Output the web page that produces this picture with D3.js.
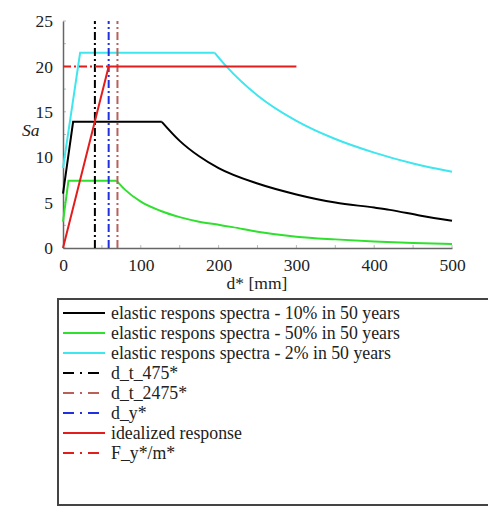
<!DOCTYPE html>
<html>
<head>
<meta charset="utf-8">
<script src="https://cdn.jsdelivr.net/npm/d3@7"></script>
<style>
  html, body { margin: 0; padding: 0; background: #fff; }
  svg { display: block; }
  svg text { font-family: "Liberation Serif", "Times New Roman", Times, serif; fill: #222; }
</style>
</head>
<body>
<svg id="chart" width="488" height="510"></svg>
<script>
// Displacement d* [mm] and spectral acceleration Sa for each curve
const spectrum10D  = [0, 13, 127, 150, 175, 200, 250, 300, 350, 400, 420, 460, 500];
const spectrum10Sa = [6.0, 13.9, 13.9, 11.8, 10.1, 8.8, 7.1, 5.9, 5.0, 4.45, 4.2, 3.55, 3.0];

const spectrum50D  = [0, 7, 69, 80, 100, 125, 150, 175, 200, 218, 250, 300, 350, 400, 450, 500];
const spectrum50Sa = [2.9, 7.4, 7.4, 6.4, 5.1, 4.1, 3.4, 2.9, 2.55, 2.3, 1.8, 1.25, 0.95, 0.72, 0.56, 0.45];

const spectrum2D   = [0, 22, 195, 210, 250, 300, 350, 400, 450, 500];
const spectrum2Sa  = [8.8, 21.5, 21.5, 20.0, 16.8, 14.0, 12.0, 10.5, 9.3, 8.4];

const idealD  = [0, 58.7, 300];
const idealSa = [0, 20, 20];

const dT475 = 41;
const dT2475 = 70;
const dY = 58.7;
const fyM = 20;

const xTicks = [0, 100, 200, 300, 400, 500];
const yTicks = [0, 5, 10, 15, 20, 25];

const legendLabels = [
  "elastic respons spectra - 10% in 50 years",
  "elastic respons spectra - 50% in 50 years",
  "elastic respons spectra - 2% in 50 years",
  "d_t_475*",
  "d_t_2475*",
  "d_y*",
  "idealized response",
  "F_y*/m*"
];

const FONT = '"Liberation Serif", "Times New Roman", Times, serif';

const svg = d3.select("#chart");
const x = d3.scaleLinear().domain([0, 500]).range([63, 452]);
const y = d3.scaleLinear().domain([0, 25]).range([248, 21]);

const DASHDOT = "8,3,2,3";
const styles = [
  { color: "#000000", dash: null },
  { color: "#2fe02f", dash: null },
  { color: "#3ee6ee", dash: null },
  { color: "#000000", dash: DASHDOT },
  { color: "#b8605a", dash: DASHDOT },
  { color: "#2030e0", dash: DASHDOT },
  { color: "#e31c1c", dash: null },
  { color: "#e31c1c", dash: DASHDOT }
];

const zip = (a, b) => a.map((v, i) => [v, b[i]]);
const linear = d3.line().x(d => x(d[0])).y(d => y(d[1]));
const smooth = d3.line().x(d => x(d[0])).y(d => y(d[1])).curve(d3.curveMonotoneX);

// Minor ticks along the axes
const gMinor = svg.append("g").attr("stroke", "#bbb").attr("stroke-width", 1);
d3.range(0, 25.01, 2.5).forEach(v => {
  gMinor.append("line").attr("x1", x(0)).attr("x2", x(0) + 3).attr("y1", y(v)).attr("y2", y(v));
});
d3.range(50, 500.01, 50).forEach(v => {
  gMinor.append("line").attr("x1", x(v)).attr("x2", x(v)).attr("y1", y(0)).attr("y2", y(0) - 3);
});

// Axes
const xAxis = d3.axisBottom(x).tickValues(xTicks).tickSize(0).tickPadding(11);
const gx = svg.append("g").attr("transform", `translate(0,${y(0)})`).call(xAxis)
  .attr("font-family", FONT).attr("font-size", 17.5);
gx.select(".domain").attr("stroke", "#666").attr("stroke-width", 1.5);
gx.selectAll("text").attr("fill", "#222");

const yAxis = d3.axisLeft(y).tickValues(yTicks).tickSize(0).tickPadding(10);
const gy = svg.append("g").attr("transform", `translate(${x(0)},0)`).call(yAxis)
  .attr("font-family", FONT).attr("font-size", 17.5);
gy.select(".domain").attr("stroke", "#666").attr("stroke-width", 1.5);
gy.selectAll("text").attr("fill", "#222");

svg.append("text").attr("x", 22).attr("y", 136)
  .style("font-size", "17.5px").style("font-style", "italic").text("Sa");
svg.append("text").attr("x", 257).attr("y", 289).attr("text-anchor", "middle")
  .style("font-size", "17.5px").text("d* [mm]");

// Elastic spectra: straight rise and plateau, smooth descending branch
const curves = [
  { data: zip(spectrum10D, spectrum10Sa), s: styles[0] },
  { data: zip(spectrum50D, spectrum50Sa), s: styles[1] },
  { data: zip(spectrum2D, spectrum2Sa), s: styles[2] }
];
curves.forEach(c => {
  svg.append("path").attr("d", linear(c.data.slice(0, 3)))
    .attr("fill", "none").attr("stroke", c.s.color).attr("stroke-width", 2);
  svg.append("path").attr("d", smooth(c.data.slice(2)))
    .attr("fill", "none").attr("stroke", c.s.color).attr("stroke-width", 2);
});

// Vertical displacement markers
[[dT475, styles[3]], [dT2475, styles[4]], [dY, styles[5]]].forEach(([d, s]) => {
  svg.append("line").attr("x1", x(d)).attr("x2", x(d)).attr("y1", y(0)).attr("y2", y(25))
    .attr("stroke", s.color).attr("stroke-width", 2).attr("stroke-dasharray", s.dash);
});

// Yield level up to d_y
svg.append("line").attr("x1", x(0)).attr("x2", x(dY)).attr("y1", y(fyM)).attr("y2", y(fyM))
  .attr("stroke", styles[7].color).attr("stroke-width", 2).attr("stroke-dasharray", styles[7].dash);

// Idealized bilinear response
svg.append("path").attr("d", linear(zip(idealD, idealSa)))
  .attr("fill", "none").attr("stroke", styles[6].color).attr("stroke-width", 2);

// Legend
const lg = svg.append("g");
lg.append("path").attr("d", "M490,299 H58 V505 H490")
  .attr("fill", "none").attr("stroke", "#444").attr("stroke-width", 2);
legendLabels.forEach((lab, i) => {
  const cy = 313 + i * 20;
  const s = styles[i];
  lg.append("line").attr("x1", 63).attr("x2", 105).attr("y1", cy).attr("y2", cy)
    .attr("stroke", s.color).attr("stroke-width", 2)
    .attr("stroke-dasharray", s.dash ? "11,6,2,6" : null);
  lg.append("text").attr("x", 111).attr("y", cy + 6).style("font-size", "17.8px").text(lab);
});
</script>
</body>
</html>
